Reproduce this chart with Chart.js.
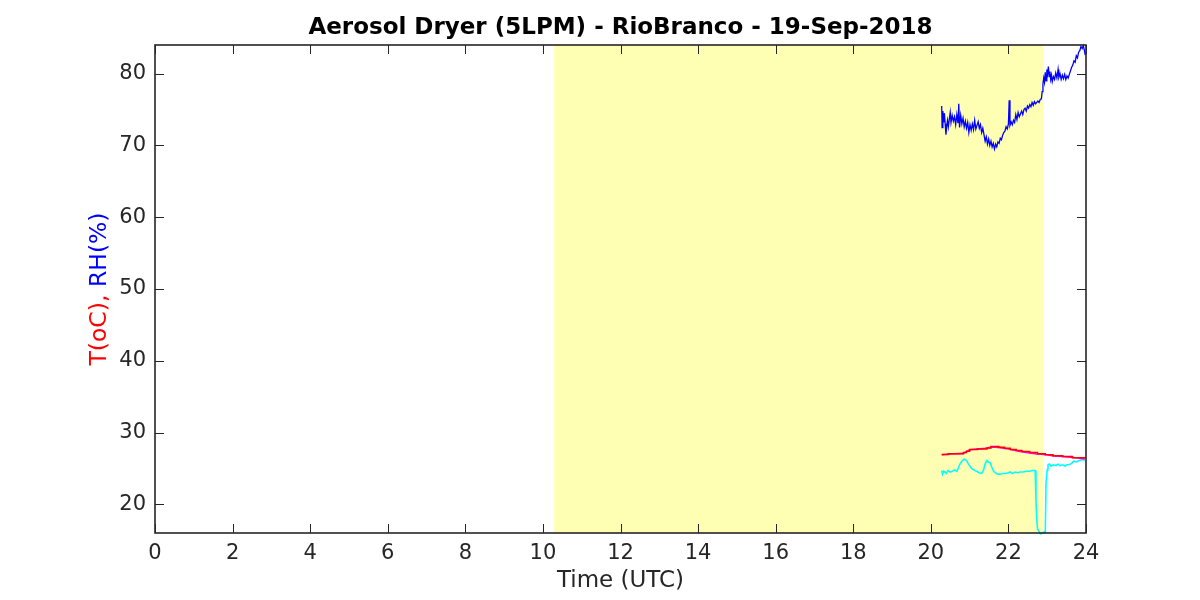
<!DOCTYPE html>
<html>
<head>
<meta charset="utf-8">
<script src="https://cdn.jsdelivr.net/npm/chart.js@4"></script>
<style>
html,body{margin:0;padding:0;background:#fff;}
#wrap{width:1200px;height:600px;}
</style>
</head>
<body>
<div id="wrap"><canvas id="c" width="1200" height="600"></canvas></div>
<script>
const titleText = "Aerosol Dryer (5LPM) - RioBranco - 19-Sep-2018";
const xTicks = [0,2,4,6,8,10,12,14,16,18,20,22,24];
const yTicks = [20,30,40,50,60,70,80];
const shadeStart = 10.29;
const shadeEnd = 22.89;

// RH (%) - blue
const rhTime = [20.28,20.29,20.31,20.33,20.35,20.37,20.39,20.41,20.43,20.45,20.48,20.50,20.52,20.55,20.58,20.61,20.64,20.67,20.70,20.72,20.74,20.77,20.80,20.83,20.86,20.89,20.92,20.95,20.98,21.01,21.04,21.07,21.10,21.13,21.16,21.19,21.22,21.25,21.28,21.31,21.34,21.37,21.40,21.43,21.46,21.49,21.52,21.55,21.58,21.61,21.64,21.67,21.70,21.73,21.76,21.79,21.82,21.85,21.88,21.91,21.94,21.97,22.00,22.02,22.04,22.07,22.10,22.13,22.16,22.19,22.22,22.25,22.28,22.31,22.34,22.37,22.40,22.43,22.46,22.49,22.52,22.55,22.58,22.61,22.64,22.67,22.70,22.73,22.76,22.79,22.82,22.85,22.87,22.89,22.91,22.93,22.95,22.97,22.99,23.01,23.03,23.05,23.07,23.09,23.11,23.13,23.16,23.19,23.22,23.25,23.28,23.30,23.33,23.36,23.39,23.42,23.45,23.48,23.51,23.54,23.57,23.60,23.63,23.66,23.69,23.72,23.75,23.78,23.81,23.84,23.87,23.90,23.93,23.96,23.98];
const rhValues = [75.5,72.5,74.8,73.2,74.5,73.0,71.5,72.8,73.5,72.6,73.8,74.6,73.2,74.2,73.4,74.0,72.9,74.3,73.1,75.8,72.5,74.2,73.0,73.8,72.6,73.4,72.4,73.2,71.8,72.9,72.1,73.0,72.2,73.5,72.3,72.8,73.3,72.4,72.9,71.8,72.4,71.5,70.6,71.2,70.2,70.9,70.0,70.6,69.8,70.3,69.5,70.2,69.8,70.5,70.3,71.0,70.8,71.4,71.8,72.0,72.6,72.3,73.0,76.3,72.8,73.3,72.9,73.5,73.2,74.3,73.6,74.6,74.0,74.4,74.8,74.3,75.0,75.2,74.8,75.5,75.2,75.7,75.4,76.0,75.6,76.1,75.8,76.0,76.2,76.0,76.4,76.5,77.5,78.6,79.4,78.8,80.2,79.0,80.6,80.0,81.0,79.6,80.3,79.2,79.8,78.9,79.6,79.2,80.1,79.4,80.6,79.5,80.0,79.2,79.8,79.3,79.9,79.2,79.7,79.4,79.9,80.4,80.9,81.2,81.8,81.6,82.5,82.2,83.0,83.2,83.8,83.5,83.9,83.2,82.6];

// Temperature (oC) - red (stepped) and magenta
const tRedTime = [20.28,20.45,20.60,20.84,20.92,21.00,21.20,21.45,21.55,21.75,21.90,22.05,22.20,22.35,22.55,22.75,22.95,23.15,23.40,23.65,23.98];
const tRedValues = [26.95,27.05,27.05,27.2,27.4,27.65,27.7,27.85,28.05,27.95,27.8,27.65,27.5,27.35,27.2,27.05,26.9,26.75,26.65,26.5,26.4];
const tMagTime = [20.28,20.50,20.84,21.00,21.20,21.40,21.61,21.78,22.00,22.30,22.50,22.73,23.00,23.16,23.40,23.59,23.80,23.97];
const tMagValues = [26.9,27.0,27.1,27.6,27.7,27.8,28.0,27.9,27.7,27.35,27.2,27.0,26.9,26.75,26.65,26.55,26.45,26.3];

// Second temperature - cyan
const t2Time = [20.28,20.30,20.33,20.36,20.40,20.44,20.50,20.55,20.60,20.67,20.71,20.75,20.80,20.86,20.92,20.97,21.01,21.05,21.10,21.14,21.18,21.24,21.31,21.36,21.40,21.44,21.48,21.53,21.57,21.62,21.66,21.72,21.78,21.85,21.92,22.00,22.04,22.10,22.18,22.24,22.30,22.38,22.47,22.55,22.62,22.69,22.71,22.73,22.75,22.79,22.83,22.88,22.93,22.95,22.97,23.00,23.02,23.06,23.10,23.16,23.22,23.28,23.33,23.40,23.46,23.50,23.56,23.63,23.68,23.76,23.82,23.88,23.93,23.98];
const t2Values = [24.7,24.2,24.6,24.5,24.3,24.7,24.5,24.6,24.8,24.6,25.1,25.6,26.0,26.3,26.1,25.6,25.3,25.0,24.8,24.7,24.6,24.4,24.3,24.8,25.6,26.1,25.9,25.8,25.2,24.6,24.4,24.2,24.2,24.3,24.3,24.4,24.5,24.3,24.5,24.4,24.5,24.5,24.6,24.6,24.7,24.7,20.5,18.0,16.6,16.2,15.9,16.0,16.2,16.1,23.0,24.8,25.5,25.6,25.3,25.5,25.4,25.6,25.4,25.5,25.3,25.5,25.5,25.7,26.0,25.9,26.1,26.2,26.2,26.1];

function toXY(ts, vs){ return ts.map((t,i)=>({x:t,y:vs[i]})); }

const FONT = "'DejaVu Sans', sans-serif";
const AX = '#262626';

const decorPlugin = {
  id:'decor',
  beforeDatasetsDraw(chart){
    const {ctx, chartArea:a, scales:{x,y}} = chart;
    ctx.save();
    const x0 = x.getPixelForValue(shadeStart), x1 = x.getPixelForValue(shadeEnd);
    ctx.fillStyle = '#ffffb4';
    ctx.fillRect(x0, a.top, x1-x0, a.bottom-a.top);
    ctx.restore();
  },
  afterDraw(chart){
    const {ctx, chartArea:a, scales:{x,y}} = chart;
    ctx.save();
    ctx.strokeStyle = AX;
    ctx.lineWidth = 1.6;
    ctx.strokeRect(a.left, a.top, a.right-a.left, a.bottom-a.top);
    ctx.lineWidth = 1;
    const L = 9;
    ctx.beginPath();
    xTicks.forEach(v=>{
      const px = Math.round(x.getPixelForValue(v))+0.5;
      ctx.moveTo(px, a.bottom); ctx.lineTo(px, a.bottom-L);
      ctx.moveTo(px, a.top); ctx.lineTo(px, a.top+L);
    });
    yTicks.forEach(v=>{
      const py = Math.round(y.getPixelForValue(v))+0.5;
      ctx.moveTo(a.left, py); ctx.lineTo(a.left+L, py);
      ctx.moveTo(a.right, py); ctx.lineTo(a.right-L, py);
    });
    ctx.stroke();
    ctx.fillStyle = '#000';
    ctx.font = "bold 23px " + FONT;
    ctx.textAlign = 'center';
    ctx.textBaseline = 'middle';
    ctx.fillText(titleText, (a.left+a.right)/2, 28);
    ctx.fillStyle = AX;
    ctx.font = "23px " + FONT;
    ctx.fillText("Time (UTC)", (a.left+a.right)/2, 581);
    ctx.translate(100, (a.top+a.bottom)/2);
    ctx.rotate(-Math.PI/2);
    ctx.font = "23.5px " + FONT;
    const p1 = "T(oC), ", p2 = "RH(%)";
    const w1 = ctx.measureText(p1).width, w2 = ctx.measureText(p2).width;
    ctx.textAlign = 'left';
    ctx.fillStyle = '#ff0000';
    ctx.fillText(p1, -(w1+w2)/2, 0);
    ctx.fillStyle = '#0000ff';
    ctx.fillText(p2, -(w1+w2)/2 + w1, 0);
    ctx.restore();
  }
};

new Chart(document.getElementById('c'), {
  type:'line',
  data:{
    datasets:[
      {label:'T red', data:toXY(tRedTime,tRedValues), borderColor:'#ff0000', borderWidth:1.5, stepped:true, pointRadius:0, tension:0},
      {label:'T', data:toXY(tMagTime,tMagValues), borderColor:'#ff00ff', borderWidth:1.6, pointRadius:0, tension:0},
      {label:'T2', data:toXY(t2Time,t2Values), borderColor:'#00ffff', borderWidth:1.6, pointRadius:0, tension:0},
      {label:'RH', data:toXY(rhTime,rhValues), borderColor:'#0000ff', borderWidth:1.3, pointRadius:0, tension:0}
    ]
  },
  options:{
    responsive:false,
    animation:false,
    clip:false,
    layout:{padding:{top:45, right:114, left:0, bottom:0}},
    plugins:{legend:{display:false}, tooltip:{enabled:false}, title:{display:false}},
    scales:{
      x:{
        type:'linear', min:0, max:24,
        afterBuildTicks(s){ s.ticks = xTicks.map(v=>({value:v})); },
        afterFit(s){ s.height = 67; },
        grid:{display:false, drawTicks:false},
        border:{display:false},
        ticks:{color:AX, font:{family:FONT, size:21}, padding:8, maxRotation:0, autoSkip:false}
      },
      y:{
        type:'linear', min:16, max:84,
        afterBuildTicks(s){ s.ticks = yTicks.map(v=>({value:v})); },
        afterFit(s){ s.width = 155; },
        grid:{display:false, drawTicks:false},
        border:{display:false},
        ticks:{color:AX, font:{family:FONT, size:21}, padding:9}
      }
    }
  },
  plugins:[decorPlugin]
});
</script>
</body>
</html>
